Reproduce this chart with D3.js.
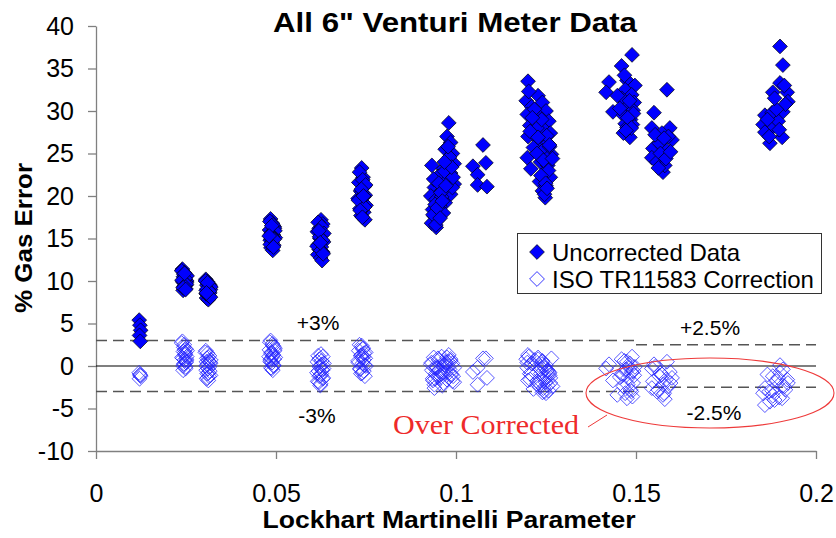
<!DOCTYPE html>
<html>
<head>
<meta charset="utf-8">
<script src="https://cdn.jsdelivr.net/npm/d3@7"></script>
<style>
  body { margin: 0; background: #fff; }
  svg { display: block; }
  text { font-family: "Liberation Sans", Arial, sans-serif; }
</style>
</head>
<body>
<svg id="chart" width="836" height="538"></svg>
<script>
// Each test point: Lockhart-Martinelli parameter, gas error before and after the ISO TR11583 correction.
const lmParam = [
  0.0120,0.0122,0.0124,0.0121,0.0123,
  0.0240,0.0245,0.0250,0.0243,0.0248,0.0252,0.0241,0.0246,0.0250,0.0244,0.0249,0.0242,0.0247,0.0251,
  0.0238,0.0244,0.0253,0.0247,0.0239,0.0251,0.0245,0.0242,0.0249,0.0246,
  0.0305,0.0310,0.0315,0.0308,0.0313,0.0318,0.0306,0.0311,0.0316,0.0309,0.0314,0.0307,0.0312,0.0317,
  0.0304,0.0312,0.0319,0.0309,0.0315,0.0306,0.0313,0.0318,0.0310,0.0307,
  0.0485,0.0490,0.0495,0.0482,0.0488,0.0493,0.0498,0.0484,0.0489,0.0494,0.0486,0.0491,0.0496,0.0487,
  0.0483,0.0492,0.0497,0.0486,0.0490,0.0495,0.0484,0.0493,0.0488,0.0481,
  0.0625,0.0630,0.0620,0.0615,0.0628,0.0622,0.0632,0.0618,0.0626,0.0620,0.0630,0.0616,0.0624,0.0628,
  0.0617,0.0627,0.0633,0.0621,0.0629,0.0614,0.0625,0.0631,0.0619,0.0623,
  0.0738,0.0742,0.0730,0.0745,0.0735,0.0748,0.0728,0.0740,0.0750,0.0733,0.0744,0.0736,0.0747,0.0739,
  0.0732,0.0741,0.0749,0.0737,0.0744,0.0729,0.0746,0.0734,0.0740,0.0743,
  0.0980,0.0975,0.0985,0.0970,0.0990,0.0978,0.0995,0.0933,0.0965,0.0985,0.0950,0.0975,0.0995,0.0940,
  0.0960,0.0985,0.0930,0.0945,0.0970,0.0955,0.0935,0.0965,0.0940,0.0950,0.0932,0.0945,0.0960,0.0990,
  0.0938,0.0952,0.0968,0.0982,0.0992,0.0942,0.0958,0.0972,0.0988,0.0936,0.0948,0.0962,0.0978,0.0944,0.0956,0.0968,
  0.1075,0.1047,0.1083,0.1060,0.1060,0.1086,
  0.1200,0.1228,0.1195,0.1240,0.1210,0.1250,0.1198,0.1235,0.1258,0.1205,0.1245,0.1262,0.1200,0.1230,0.1255,
  0.1215,0.1240,0.1265,0.1198,0.1235,0.1255,0.1208,0.1245,0.1262,0.1232,0.1250,0.1240,0.1248,0.1225,0.1260,
  0.1202,0.1218,0.1238,0.1252,0.1260,0.1206,0.1225,0.1243,0.1257,0.1212,0.1236,0.1249,0.1268,0.1228,0.1246,0.1253,
  0.1489,0.1460,0.1475,0.1425,0.1497,0.1417,0.1470,0.1488,0.1460,0.1495,
  0.1478,0.1436,0.1492,0.1465,0.1485,0.1470,0.1490,0.1475,0.1483,0.1465,
  0.1468,0.1482,0.1493,0.1455,0.1477,0.1487,0.1472,0.1448,
  0.1586,0.1550,0.1544,0.1594,0.1572,0.1600,0.1547,0.1575,0.1544,0.1558,0.1575,0.1580,0.1565,0.1590,
  0.1553,0.1568,0.1583,0.1562,0.1578,0.1596,
  0.1900,0.1908,0.1900,0.1880,0.1920,0.1922,0.1908,0.1858,0.1878,0.1853,0.1880,0.1906,0.1872,0.1858,0.1895,0.1915,
  0.1865,0.1890,0.1912,0.1870,0.1898,0.1885
];
const uncorrectedErr = [
  5.4,4.8,4.2,3.6,2.9,
  11.4,11.0,10.7,10.5,10.2,10.0,9.9,9.7,9.5,9.3,9.1,8.9,10.4,9.8,
  11.2,10.8,10.6,10.3,10.1,9.6,9.4,9.2,9.0,10.9,
  10.2,9.9,9.6,9.5,9.2,9.0,8.9,8.7,8.6,8.4,8.2,8.0,7.8,9.4,
  10.0,9.7,9.3,9.1,8.8,8.5,8.3,8.1,9.8,8.6,
  17.3,16.8,16.4,16.0,15.7,15.4,15.1,14.8,14.5,14.2,13.9,13.6,16.2,15.0,
  17.0,16.6,15.9,15.5,15.2,14.9,14.3,14.0,16.5,15.3,
  17.2,16.7,16.2,15.8,15.4,15.0,14.6,14.3,14.0,13.7,13.4,13.1,12.7,12.4,
  16.9,16.4,15.6,15.2,14.8,14.1,13.6,13.2,15.9,14.5,
  23.3,22.2,21.6,21.1,20.6,20.1,19.7,19.3,18.9,18.5,18.1,17.7,17.2,20.4,
  22.8,21.9,21.3,20.8,19.9,19.5,18.7,18.3,17.5,20.0,
  28.6,27.0,26.3,25.5,25.0,24.3,23.8,23.6,23.2,22.7,22.3,21.8,21.4,21.0,
  20.6,20.2,20.0,19.6,19.2,18.8,18.4,18.0,17.6,17.2,16.8,16.3,19.9,21.0,
  22.0,21.5,22.9,24.6,22.2,19.0,20.4,21.2,23.4,17.8,18.6,19.4,25.8,16.6,17.4,24.0,
  26.0,23.5,23.9,22.5,21.3,21.1,
  33.5,31.8,31.2,31.0,30.5,30.0,29.6,29.2,28.8,28.3,27.8,27.4,27.0,26.6,26.2,
  25.7,25.3,24.9,24.5,24.0,23.6,23.2,22.7,22.2,21.7,21.2,20.6,19.8,28.0,25.8,
  32.3,30.2,29.0,27.1,26.0,27.6,25.0,24.2,23.0,29.2,22.4,21.5,24.4,26.9,20.2,20.9,
  36.6,35.3,33.6,33.4,33.0,32.2,32.5,31.9,31.5,31.0,
  30.6,29.9,30.1,29.5,29.0,28.5,28.4,28.1,26.9,27.4,
  34.2,31.2,29.7,30.3,29.2,28.0,27.7,31.8,
  32.5,29.8,28.0,28.0,27.4,26.6,25.6,25.8,24.5,24.0,22.8,23.6,26.2,27.0,
  27.2,25.0,24.4,23.3,26.8,25.2,
  37.6,35.4,33.3,32.2,32.2,31.1,29.9,29.5,29.8,28.4,28.1,26.9,26.2,27.5,28.8,30.8,
  29.0,30.2,33.0,27.0,27.8,31.5
];
const correctedErr = [
  -0.8,-1.0,-1.2,-1.5,-1.1,
  2.9,2.5,2.0,1.7,1.4,1.1,0.9,0.7,0.4,0.2,-0.1,-0.5,1.6,0.8,
  2.7,2.2,1.8,1.3,1.0,0.6,0.3,0.0,-0.3,1.9,
  1.8,1.5,1.2,0.9,0.6,0.3,0.0,-0.3,-0.6,-0.9,-1.2,-1.5,-1.7,0.4,
  1.6,1.0,0.7,0.2,-0.1,-0.5,-0.8,-1.1,-1.4,0.5,
  3.0,2.6,2.2,1.9,1.6,1.3,1.0,0.7,0.4,0.1,-0.2,-0.5,1.8,0.9,
  2.8,2.4,2.0,1.5,1.2,0.8,0.5,0.0,-0.3,1.1,
  1.4,1.1,0.8,0.5,0.2,0.0,-0.3,-0.6,-0.9,-1.2,-1.5,-1.8,-2.1,-0.4,
  1.2,0.6,0.3,-0.1,-0.5,-0.8,-1.1,-1.4,-1.9,-2.3,
  2.4,2.1,1.8,1.5,1.2,0.9,0.6,0.3,0.0,-0.3,-0.6,-0.9,-1.2,1.0,
  2.5,2.0,1.6,1.3,0.7,0.4,0.1,-0.4,-0.8,1.1,
  1.3,1.0,0.8,0.5,0.3,0.0,-0.2,-0.5,-0.8,-1.0,-1.3,-1.6,-1.9,-2.2,
  1.1,0.6,0.2,-0.3,-0.7,-1.1,-1.5,-2.0,-2.6,0.9,0.4,-0.1,-0.9,-1.8,
  1.0,0.7,0.2,-0.4,-1.2,-1.5,-0.6,0.4,-1.0,-1.7,-0.2,-2.3,0.5,-0.9,-1.4,0.1,
  0.9,-0.7,0.9,-0.2,-2.2,-1.4,
  1.3,1.0,0.8,0.5,0.3,0.1,-0.2,-0.4,-0.7,-0.9,-1.2,-1.4,-1.7,-2.0,-2.3,
  -2.7,-3.1,0.9,0.4,-0.1,-0.5,-1.0,-1.5,-2.0,-2.5,-3.2,0.6,-0.3,-1.8,-0.8,
  1.1,0.7,0.2,-0.6,-1.1,-1.6,-2.1,-2.6,-2.9,0.3,-0.9,-1.9,-2.4,0.8,-3.0,-1.3,
  1.1,0.8,0.5,0.2,-0.1,-0.3,-0.5,-0.7,-0.9,-1.1,
  -1.4,-1.7,-2.0,-2.4,-2.8,-3.2,-3.6,-3.8,0.3,-1.0,
  0.6,-0.2,-0.6,-1.3,-2.2,-3.0,-0.4,-3.4,
  0.5,0.2,-0.3,-0.7,-1.0,-1.4,-1.8,-2.2,-2.6,-3.0,-3.4,-3.9,-1.2,-2.4,
  -0.1,-0.8,-1.6,-2.8,-3.2,-2.0,
  0.1,-0.4,-0.8,-1.2,-1.6,-2.0,-2.3,-2.6,-2.9,-3.2,-3.5,-3.8,-4.2,-4.6,-1.4,-2.8,
  -1.0,-1.8,-2.4,-3.0,-3.7,-4.0
];

const xTicks = [0, 0.05, 0.1, 0.15, 0.2];
const yTicks = [-10, -5, 0, 5, 10, 15, 20, 25, 30, 35, 40];
const seriesNames = ["Uncorrected Data", "ISO TR11583 Correction"];

// Uncertainty bands: limit value and the parameter range it applies to.
const limitValues = [3, -3, 2.5, -2.5];
const limitFrom = [0, 0, 0.15, 0.15];
const limitTo = [0.15, 0.15, 0.2, 0.2];
const limitLabels = ["+3%", "-3%", "+2.5%", "-2.5%"];

const svg = d3.select("#chart");
const x = d3.scaleLinear().domain([0, 0.2]).range([96, 816]);
const y = d3.scaleLinear().domain([-10, 40]).range([451, 26]);

// Excel-style diamond: a square turned 45 degrees
const diamond = {
  draw(ctx, size) {
    const r = Math.sqrt(size / 2);
    ctx.moveTo(0, -r); ctx.lineTo(r, 0); ctx.lineTo(0, r); ctx.lineTo(-r, 0); ctx.closePath();
  }
};
const filledSym = d3.symbol().type(diamond).size(2 * 7.4 * 7.4);
const openSym = d3.symbol().type(diamond).size(2 * 7.4 * 7.4);

const tickFont = '"Liberation Sans", Arial, sans-serif';

// Axes
const yAxis = d3.axisLeft(y).tickValues(yTicks).tickSize(8).tickSizeOuter(0).tickPadding(14)
  .tickFormat(d => String(d));
const gy = svg.append("g").attr("transform", `translate(${x(0)},0)`).call(yAxis);
gy.selectAll("text").attr("font-size", 25).attr("fill", "#000").style("font-family", tickFont);

const xAxis = d3.axisBottom(x).tickValues(xTicks).tickSize(8).tickSizeOuter(0).tickPadding(25)
  .tickFormat(d => String(d));
const gx = svg.append("g").attr("transform", `translate(0,${y(-10)})`).call(xAxis);
gx.selectAll("text").attr("font-size", 25).attr("fill", "#000").style("font-family", tickFont);

[gx, gy].forEach(g => {
  g.select(".domain").attr("stroke", "#808080").attr("stroke-width", 1.3);
  g.selectAll(".tick line").attr("stroke", "#808080").attr("stroke-width", 1.3);
});

// Zero line
svg.append("line")
  .attr("x1", x(0)).attr("x2", x(0.2)).attr("y1", y(0)).attr("y2", y(0))
  .attr("stroke", "#000").attr("stroke-width", 1.2);

// Dashed limit lines
svg.append("g").selectAll("line").data(limitValues).join("line")
  .attr("x1", (d, i) => x(limitFrom[i])).attr("x2", (d, i) => x(limitTo[i]))
  .attr("y1", d => y(d)).attr("y2", d => y(d))
  .attr("stroke", "#555").attr("stroke-width", 1.4).attr("stroke-dasharray", "11,6");

// Corrected points (open diamonds)
svg.append("g").selectAll("path").data(lmParam).join("path")
  .attr("d", openSym)
  .attr("transform", (d, i) => `translate(${x(d)},${y(correctedErr[i])})`)
  .attr("fill", "none").attr("stroke", "#2222ff").attr("stroke-width", 0.9).attr("stroke-opacity", 0.85);

// Uncorrected points (filled diamonds)
svg.append("g").selectAll("path").data(lmParam).join("path")
  .attr("d", filledSym)
  .attr("transform", (d, i) => `translate(${x(d)},${y(uncorrectedErr[i])})`)
  .attr("fill", "#0000ff").attr("stroke", "#000").attr("stroke-width", 0.7);

// Limit labels
const labelX = [318, 317, 710, 714];
const labelY = [330, 423, 335, 420];
svg.append("g").selectAll("text").data(limitLabels).join("text")
  .attr("x", (d, i) => labelX[i]).attr("y", (d, i) => labelY[i])
  .attr("text-anchor", "middle").attr("font-size", 21).attr("fill", "#000")
  .text(d => d);

// Over-corrected region
svg.append("ellipse")
  .attr("cx", 710).attr("cy", 393).attr("rx", 124).attr("ry", 35)
  .attr("fill", "none").attr("stroke", "#ee3a3a").attr("stroke-width", 1.1);
svg.append("line")
  .attr("x1", 588).attr("y1", 427).attr("x2", 607).attr("y2", 415)
  .attr("stroke", "#ee3a3a").attr("stroke-width", 1);
svg.append("text")
  .attr("x", 393).attr("y", 434)
  .attr("font-size", 28).attr("fill", "#ee2a2a")
  .attr("textLength", 186).attr("lengthAdjust", "spacingAndGlyphs")
  .style("font-family", '"Liberation Serif", "Times New Roman", serif')
  .text("Over Corrected");

// Legend
const legend = svg.append("g");
legend.append("rect")
  .attr("x", 517.5).attr("y", 233.5).attr("width", 304).attr("height", 60)
  .attr("fill", "#fff").attr("stroke", "#333").attr("stroke-width", 1);
const legRows = legend.selectAll("g").data(seriesNames).join("g")
  .attr("transform", (d, i) => `translate(537,${252 + i * 27})`);
legRows.append("path")
  .attr("d", (d, i) => i === 0 ? filledSym() : openSym())
  .attr("fill", (d, i) => i === 0 ? "#0000ff" : "none")
  .attr("stroke", (d, i) => i === 0 ? "#000" : "#2222ff")
  .attr("stroke-width", (d, i) => i === 0 ? 0.7 : 0.9);
legRows.append("text")
  .attr("x", 15).attr("y", 8.5)
  .attr("font-size", 24).attr("fill", "#000")
  .text(d => d);

// Titles
svg.append("text")
  .attr("x", 455).attr("y", 32).attr("text-anchor", "middle")
  .attr("font-size", 28).attr("font-weight", "bold")
  .attr("textLength", 364).attr("lengthAdjust", "spacingAndGlyphs")
  .text('All 6" Venturi Meter Data');

svg.append("text")
  .attr("x", 449).attr("y", 528).attr("text-anchor", "middle")
  .attr("font-size", 23).attr("font-weight", "bold")
  .attr("textLength", 373).attr("lengthAdjust", "spacingAndGlyphs")
  .text("Lockhart Martinelli Parameter");

svg.append("text")
  .attr("transform", `translate(32,238) rotate(-90)`)
  .attr("text-anchor", "middle")
  .attr("font-size", 24).attr("font-weight", "bold")
  .attr("textLength", 150).attr("lengthAdjust", "spacingAndGlyphs")
  .text("% Gas Error");
</script>
</body>
</html>
